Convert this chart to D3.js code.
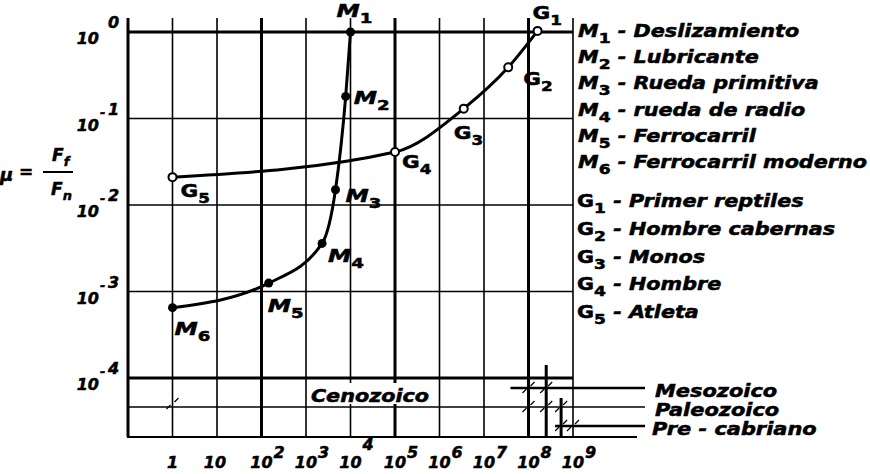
<!DOCTYPE html>
<html>
<head>
<meta charset="utf-8">
<script src="https://cdn.jsdelivr.net/npm/d3@7"></script>
<style>
  body { margin: 0; background: #fff; }
  svg { display: block; }
  text { font-family: "DejaVu Sans", sans-serif; font-weight: bold; font-style: italic; fill: #000; stroke: #000; stroke-width: 0.5px; }
</style>
</head>
<body>
<div id="chart"></div>
<script>
// x: years (log), y: friction coefficient mu = Ff/Fn (log)
var xTicks = [1, 1e1, 1e2, 1e3, 1e4, 1e5, 1e6, 1e7, 1e8, 1e9];
var yTicks = [1, 1e-1, 1e-2, 1e-3, 1e-4];

// man-made ("M") curve
var mIds = ["1", "2", "3", "4", "5", "6"];
var mNames = ["Deslizamiento", "Lubricante", "Rueda primitiva", "rueda de radio", "Ferrocarril", "Ferrocarril moderno"];
var mYears = [1e4, 7800, 4600, 2300, 145, 1];
var mMu = [1, 0.18, 0.015, 0.0036, 0.00125, 0.00065];

// living ("G") curve
var gIds = ["1", "2", "3", "4", "5"];
var gNames = ["Primer reptiles", "Hombre cabernas", "Monos", "Hombre", "Atleta"];
var gYears = [1.6e8, 3.5e7, 3.5e6, 1e5, 1];
var gMu = [1.03, 0.39, 0.13, 0.041, 0.021];

// geological eras (start of each bar, years)
var eraNames = ["Mesozoico", "Paleozoico", "Pre - cabriano"];
var eraStart = [1e8, 2.5e8, 5.4e8];

var width = 870, height = 474;

var svg = d3.select("#chart").append("svg")
    .attr("width", width)
    .attr("height", height);

var x = d3.scaleLog().domain([0.1, 1e9]).range([128, 573]);
var y = d3.scaleLog().domain([1e-4, 1]).range([378, 32]);

var gridTop = 18, bandBottom = 437;
var rowMeso = 388, rowPaleo = 407, rowPre = 426;

var thickX = [0.1, 1e2, 1e5, 1e8];

// text placed at (px,py) and widened by sx (the original lettering is very wide)
function place(t, px, py, sx) {
    return t.attr("transform", "translate(" + px + "," + py + ") scale(" + sx + ",1)");
}

// vertical grid
svg.append("g").selectAll("line")
    .data([0.1].concat(xTicks))
    .enter().append("line")
    .attr("x1", function(d) { return x(d); })
    .attr("x2", function(d) { return x(d); })
    .attr("y1", gridTop)
    .attr("y2", bandBottom)
    .attr("stroke", "#000")
    .attr("stroke-width", function(d) { return thickX.indexOf(d) >= 0 ? 3 : 1.6; });

// horizontal grid
svg.append("g").selectAll("line")
    .data(yTicks)
    .enter().append("line")
    .attr("x1", x(0.1))
    .attr("x2", x(1e9))
    .attr("y1", function(d) { return y(d); })
    .attr("y2", function(d) { return y(d); })
    .attr("stroke", "#000")
    .attr("stroke-width", function(d) { return (d === 1 || d === 1e-4) ? 3 : 1.6; });

// bottom band lines
svg.append("line").attr("x1", x(0.1)).attr("x2", 645).attr("y1", rowPaleo).attr("y2", rowPaleo)
    .attr("stroke", "#000").attr("stroke-width", 1.6);
svg.append("line").attr("x1", x(0.1) - 1).attr("x2", 637).attr("y1", bandBottom).attr("y2", bandBottom)
    .attr("stroke", "#000").attr("stroke-width", 2);
svg.append("line").attr("x1", x(eraStart[0]) - 18).attr("x2", 645).attr("y1", rowMeso).attr("y2", rowMeso)
    .attr("stroke", "#000").attr("stroke-width", 2.4);
svg.append("line").attr("x1", x(eraStart[2]) - 6).attr("x2", 645).attr("y1", rowPre).attr("y2", rowPre)
    .attr("stroke", "#000").attr("stroke-width", 2.6);

// era bars
svg.append("line").attr("x1", x(eraStart[1])).attr("x2", x(eraStart[1]))
    .attr("y1", y(1e-4) - 13).attr("y2", bandBottom).attr("stroke", "#000").attr("stroke-width", 3);
svg.append("line").attr("x1", x(eraStart[2])).attr("x2", x(eraStart[2]))
    .attr("y1", rowMeso + 10).attr("y2", bandBottom).attr("stroke", "#000").attr("stroke-width", 3);

// little tick marks at the crossings
var marks = [[x(1), 404], [x(eraStart[0]), rowMeso], [x(eraStart[0]), rowPaleo], [x(eraStart[1]), rowMeso],
    [x(eraStart[1]), rowPaleo], [x(eraStart[2]), rowPaleo], [x(eraStart[2]), rowPre], [x(1e9), rowPre]];
svg.append("g").selectAll("path")
    .data(marks)
    .enter().append("path")
    .attr("d", function(d) {
        return "M" + (d[0] - 6) + "," + (d[1] + 5) + "l4,-4 M" + (d[0] + 2) + "," + (d[1] - 2) + "l4,-4";
    })
    .attr("stroke", "#000")
    .attr("stroke-width", 1.2)
    .attr("fill", "none");

// Cenozoico box
svg.append("rect").attr("x", 308).attr("y", 383).attr("width", 124).attr("height", 21).attr("fill", "#fff");
place(svg.append("text"), 370, 402, 1.22).attr("text-anchor", "middle")
    .style("font-size", "17px").text("Cenozoico");

// era labels
var eraRows = [rowMeso, rowPaleo, rowPre];
eraNames.forEach(function(name, i) {
    place(svg.append("text"), i === 2 ? 652 : 655, eraRows[i] + 9, 1.23)
        .style("font-size", "17px")
        .text(name);
});

// curves
var line = d3.line()
    .x(function(d) { return x(d[0]); })
    .y(function(d) { return y(d[1]); })
    .curve(d3.curveMonotoneX);

var mPts = mYears.map(function(v, i) { return [v, mMu[i]]; });
var gPts = gYears.map(function(v, i) { return [v, gMu[i]]; });

svg.append("path")
    .datum(mPts.slice().reverse())
    .attr("d", line)
    .attr("fill", "none")
    .attr("stroke", "#000")
    .attr("stroke-width", 3);

svg.append("path")
    .datum(gPts.slice().reverse())
    .attr("d", line)
    .attr("fill", "none")
    .attr("stroke", "#000")
    .attr("stroke-width", 3);

svg.append("g").selectAll("circle")
    .data(mPts)
    .enter().append("circle")
    .attr("cx", function(d) { return x(d[0]); })
    .attr("cy", function(d) { return y(d[1]); })
    .attr("r", 4.5)
    .attr("fill", "#000");

svg.append("g").selectAll("circle")
    .data(gPts)
    .enter().append("circle")
    .attr("cx", function(d) { return x(d[0]); })
    .attr("cy", function(d) { return y(d[1]); })
    .attr("r", 4)
    .attr("fill", "#fff")
    .attr("stroke", "#000")
    .attr("stroke-width", 2);

// point labels (offsets from the point)
var mOff = [[-14, -15], [8, 8], [10, 12], [6, 19], [-1, 29], [2, 27]];
var gOff = [[-5, -12], [15, 18], [-10, 30], [7, 16], [8, 20]];

function symbol(g, letter, sub, italic) {
    g.append("tspan").style("font-style", italic ? "italic" : "normal").text(letter);
    g.append("tspan").attr("dy", 6).style("font-size", "14px").style("font-style", "normal").text(sub);
}

mPts.forEach(function(d, i) {
    var t = place(svg.append("text"), x(d[0]) + mOff[i][0], y(d[1]) + mOff[i][1], 1.3)
        .style("font-size", "18px");
    symbol(t, "M", mIds[i], true);
});
gPts.forEach(function(d, i) {
    var t = place(svg.append("text"), x(d[0]) + gOff[i][0], y(d[1]) + gOff[i][1], 1.2)
        .style("font-size", "18px");
    symbol(t, "G", gIds[i], false);
});

// legend
mNames.forEach(function(name, i) {
    var t = place(svg.append("text"), 578, 37 + i * 26.2, 1.22)
        .style("font-size", "17px");
    symbol(t, "M", mIds[i], true);
    t.append("tspan").attr("dy", -6).text(" - " + name);
});
gNames.forEach(function(name, i) {
    var t = place(svg.append("text"), 577, 207 + i * 27.8, 1.22)
        .style("font-size", "17px");
    symbol(t, "G", gIds[i], false);
    t.append("tspan").attr("dy", -6).text(" - " + name);
});

// x tick labels
var xl = svg.append("g");
xTicks.forEach(function(v) {
    var e = Math.round(Math.log10(v));
    if (e === 0) {
        xl.append("text").attr("x", x(v)).attr("y", 468).attr("text-anchor", "middle").style("font-size", "16px").text("1");
        return;
    }
    xl.append("text").attr("x", x(v) - (e === 1 ? 2 : 0)).attr("y", 468).attr("text-anchor", "middle").style("font-size", "16px").text("10");
    if (e > 1) {
        xl.append("text").attr("x", x(v) + 12).attr("y", e === 4 ? 450 : 458).style("font-size", "16px").text(e);
    }
});

// y tick labels
var yl = svg.append("g");
yTicks.forEach(function(v) {
    var e = Math.round(Math.log10(v));
    yl.append("text").attr("x", 99).attr("y", y(v) + 12).attr("text-anchor", "end").style("font-size", "16px").text("10");
    if (e < 0) {
        yl.append("text").attr("x", 100).attr("y", y(v) - 2).style("font-size", "13px").text("-");
    }
    yl.append("text").attr("x", 108).attr("y", y(v) - 4).style("font-size", "16px").text(Math.abs(e));
});

// y axis title: mu = Ff / Fn
var yt = svg.append("g");
yt.append("text").attr("x", 0).attr("y", 181).style("font-size", "18px").text("\u03bc");
yt.append("text").attr("x", 19).attr("y", 178).style("font-size", "17px").style("font-style", "normal").text("=");
yt.append("line").attr("x1", 43).attr("x2", 73).attr("y1", 172).attr("y2", 172).attr("stroke", "#000").attr("stroke-width", 2);
var ff = yt.append("text").attr("x", 52).attr("y", 161).style("font-size", "17px");
ff.append("tspan").text("F");
ff.append("tspan").attr("dy", 5).style("font-size", "13px").text("f");
var fn = yt.append("text").attr("x", 51).attr("y", 195).style("font-size", "17px");
fn.append("tspan").text("F");
fn.append("tspan").attr("dy", 5).style("font-size", "13px").text("n");
</script>
</body>
</html>
